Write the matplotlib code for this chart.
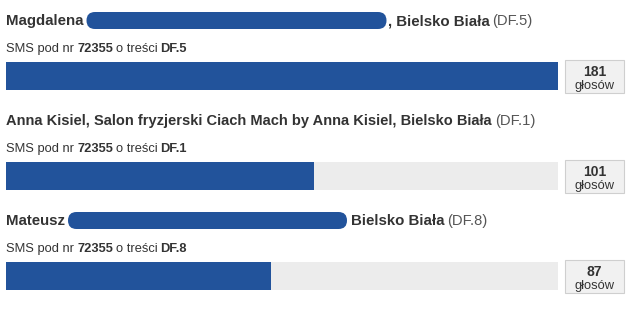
import matplotlib
matplotlib.use("Agg")
import matplotlib.pyplot as plt
from matplotlib.patches import FancyBboxPatch, Rectangle

plt.rcParams['font.family'] = ['Liberation Sans', 'DejaVu Sans']

# data
first_names = ["Magdalena", "Anna Kisiel, Salon fryzjerski Ciach Mach by Anna Kisiel", "Mateusz"]
blob_widths = [300, 0, 279]   # redacted part of the name, px (0 = none)
cities = [", Bielsko Biała", ", Bielsko Biała", "Bielsko Biała"]
codes = ["DF.5", "DF.1", "DF.8"]
votes = [181, 101, 87]
sms_number = "72355"
max_votes = max(votes)

W, H = 631, 317
fig = plt.figure(figsize=(W / 100, H / 100), dpi=100)
ax = fig.add_axes([0, 0, 1, 1])
ax.set_xlim(0, W)
ax.set_ylim(H, 0)
ax.axis("off")
rend = fig.canvas.get_renderer()

blue = "#22539b"
txt = "#333333"


def put(x, y, s, size, weight="normal", color=txt):
    # writes text at baseline y and returns the x where it ends
    t = ax.text(x, y, s, fontsize=size, fontweight=weight, color=color,
                va="baseline", ha="left")
    return x + t.get_window_extent(rend).width


for i in range(len(votes)):
    y0 = 100 * i
    ty = y0 + 25
    # title line
    if blob_widths[i]:
        x = put(6, ty, first_names[i], 10.8, "bold") + 3
        ax.add_patch(FancyBboxPatch((x, y0 + 12), blob_widths[i], 17,
                                    boxstyle="round,pad=0,rounding_size=8.5",
                                    fc=blue, ec="none"))
        x += blob_widths[i] + (1 if cities[i].startswith(",") else 4)
        x = put(x, ty, cities[i], 10.8, "bold")
    else:
        x = put(6, ty, first_names[i] + cities[i], 10.5, "bold")
    put(x + 3, ty, "(" + codes[i] + ")", 10.6, color="#555555")

    # subtitle
    sy = y0 + 52
    x = put(6, sy, "SMS pod nr", 9.3)
    x = put(x + 3, sy, sms_number, 9.3, "bold")
    x = put(x + 3, sy, "o treści", 9.3)
    put(x + 3, sy, codes[i], 9.3, "bold")

    # bar
    bax = fig.add_axes([6 / W, 1 - (y0 + 90) / H, 552 / W, 28.5 / H])
    bax.set_xlim(0, max_votes)
    bax.set_ylim(-0.5, 0.5)
    bax.barh(0, max_votes, height=1, color="#ececec")
    bax.barh(0, votes[i], height=1, color=blue)
    bax.axis("off")

    # value box
    ax.add_patch(Rectangle((565, y0 + 59.5), 59, 33, fc="#f1f1f1", ec="#cfcfcf", lw=0.8))
    ax.text(594.5, y0 + 75.5, str(votes[i]), fontsize=10, fontweight="bold",
            color="#333333", ha="center", va="baseline")
    ax.text(594.5, y0 + 88.5, "głosów", fontsize=9.3, color="#333333",
            ha="center", va="baseline")

fig.savefig("out.png", dpi=100)
